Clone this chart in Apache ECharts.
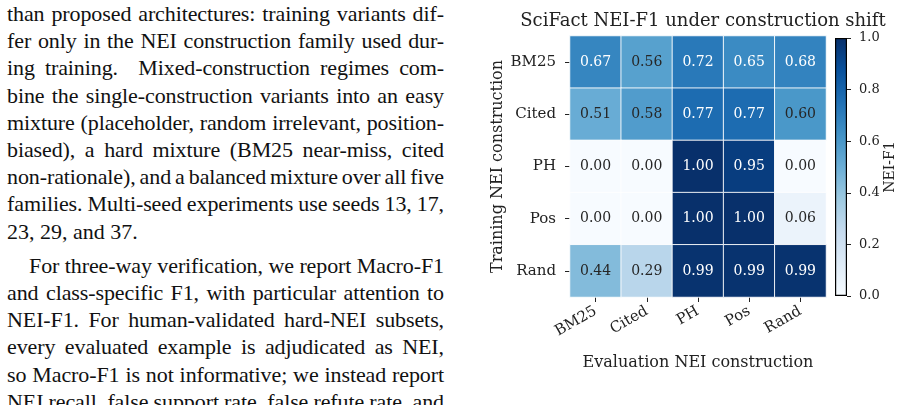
<!DOCTYPE html>
<html>
<head>
<meta charset="utf-8">
<script src="https://cdn.jsdelivr.net/npm/echarts@6/dist/echarts.min.js"></script>
<style>
    html, body { margin: 0; padding: 0; background: #fff; }
    #page { position: relative; width: 905px; height: 405px; overflow: hidden; }
    #text {
        position: absolute; left: 7px; top: 0px; width: 437px;
        font-family: "Liberation Serif", serif; font-size: 22px; line-height: 27.2px; color: #111;
        word-spacing: -2px; letter-spacing: -0.1px;
    }
    #text .l { text-align: justify; text-align-last: justify; white-space: nowrap; }
    #text .last { text-align: left; text-align-last: left; word-spacing: 0; letter-spacing: 0; }
    #text .gap { height: 7px; }
    #text .ind { padding-left: 22px; }
    #chart { position: absolute; left: 0; top: 0; width: 905px; height: 405px; }
</style>
</head>
<body>
<div id="page">
    <div id="text">
        <div class="l">than proposed architectures: training variants dif-</div>
        <div class="l">fer only in the NEI construction family used dur-</div>
        <div class="l">ing training.&nbsp; Mixed-construction regimes com-</div>
        <div class="l">bine the single-construction variants into an easy</div>
        <div class="l">mixture (placeholder, random irrelevant, position-</div>
        <div class="l">biased), a hard mixture (BM25 near-miss, cited</div>
        <div class="l">non-rationale), and a balanced mixture over all five</div>
        <div class="l">families. Multi-seed experiments use seeds 13, 17,</div>
        <div class="l last">23, 29, and 37.</div>
        <div class="gap"></div>
        <div class="l ind">For three-way verification, we report Macro-F1</div>
        <div class="l">and class-specific F1, with particular attention to</div>
        <div class="l">NEI-F1. For human-validated hard-NEI subsets,</div>
        <div class="l">every evaluated example is adjudicated as NEI,</div>
        <div class="l">so Macro-F1 is not informative; we instead report</div>
        <div class="l">NEI recall, false support rate, false refute rate, and</div>
    </div>
    <div id="chart"></div>
</div>
<script>
    // training construction (rows) x evaluation construction (columns)
    var trainNames = ['BM25', 'Cited', 'PH', 'Pos', 'Rand'];
    var evalNames = ['BM25', 'Cited', 'PH', 'Pos', 'Rand'];
    var rowBM25 = [0.67, 0.56, 0.72, 0.65, 0.68];
    var rowCited = [0.51, 0.58, 0.77, 0.77, 0.60];
    var rowPH = [0.00, 0.00, 1.00, 0.95, 0.00];
    var rowPos = [0.00, 0.00, 1.00, 1.00, 0.06];
    var rowRand = [0.44, 0.29, 0.99, 0.99, 0.99];
    var colorbarMax = [1.0];

    var blues = ['#f7fbff', '#deebf7', '#c6dbef', '#9ecae1', '#6baed6',
                 '#4292c6', '#2171b5', '#08519c', '#08306b'];
    var serif = 'DejaVu Serif';

    var rows = [rowBM25, rowCited, rowPH, rowPos, rowRand];
    var cells = [];
    rows.forEach(function (row, y) {
        row.forEach(function (v, x) {
            cells.push({
                value: [x, y, v],
                label: {color: v > 0.62 ? '#ffffff' : '#262626'}
            });
        });
    });

    var stops = blues.map(function (c, i) {
        return {offset: 1 - i / (blues.length - 1), color: c};
    });

    var chart = echarts.init(document.getElementById('chart'));
    chart.setOption({
        animation: false,
        title: {
            text: 'SciFact NEI-F1 under construction shift',
            left: 698, top: 7, textAlign: 'center',
            textStyle: {fontFamily: serif, fontSize: 18, fontWeight: 'normal', color: '#222'}
        },
        grid: [
            {left: 570, right: 79, top: 36, bottom: 108},
            {left: 835, width: 12, top: 38, bottom: 109}
        ],
        xAxis: [{
            type: 'category', data: evalNames, gridIndex: 0,
            axisLine: {show: false}, splitLine: {show: false},
            axisTick: {show: true, alignWithLabel: true, length: 5, lineStyle: {color: '#222'}},
            axisLabel: {rotate: 30, fontFamily: serif, fontSize: 15, color: '#222', margin: 13},
            name: 'Evaluation NEI construction', nameLocation: 'middle', nameGap: 58,
            nameTextStyle: {fontFamily: serif, fontSize: 16, color: '#222'}
        }, {
            type: 'category', data: ['cb'], gridIndex: 1, show: false
        }],
        yAxis: [{
            type: 'category', data: trainNames, gridIndex: 0, inverse: true,
            axisLine: {show: false}, splitLine: {show: false},
            axisTick: {show: true, alignWithLabel: true, length: 5, lineStyle: {color: '#222'}},
            axisLabel: {fontFamily: serif, fontSize: 15, color: '#222', margin: 14},
            name: 'Training NEI construction', nameLocation: 'middle', nameGap: 64,
            nameTextStyle: {fontFamily: serif, fontSize: 16, color: '#222'}
        }, {
            type: 'value', gridIndex: 1, position: 'right', min: 0, max: 1, interval: 0.2,
            axisLine: {show: false}, splitLine: {show: false},
            axisTick: {show: true, length: 4, lineStyle: {color: '#222'}},
            axisLabel: {fontFamily: serif, fontSize: 13, color: '#222', margin: 12,
                formatter: function (v) { return v.toFixed(1); }},
            name: 'NEI-F1', nameLocation: 'middle', nameGap: 36, nameRotate: 90,
            nameTextStyle: {fontFamily: serif, fontSize: 14, color: '#222'}
        }],
        visualMap: {
            show: false, type: 'continuous', min: 0, max: 1, seriesIndex: 0,
            inRange: {color: blues}
        },
        series: [{
            type: 'heatmap', xAxisIndex: 0, yAxisIndex: 0, data: cells,
            itemStyle: {borderColor: 'rgba(255,255,255,0.9)', borderWidth: 1},
            label: {show: true, fontFamily: serif, fontSize: 14,
                formatter: function (p) { return p.value[2].toFixed(2); }}
        }, {
            type: 'bar', xAxisIndex: 1, yAxisIndex: 1, data: colorbarMax, barWidth: '100%',
            silent: true,
            itemStyle: {
                color: new echarts.graphic.LinearGradient(0, 0, 0, 1, stops),
                borderColor: '#000', borderWidth: 1.2
            }
        }]
    });
</script>
</body>
</html>
